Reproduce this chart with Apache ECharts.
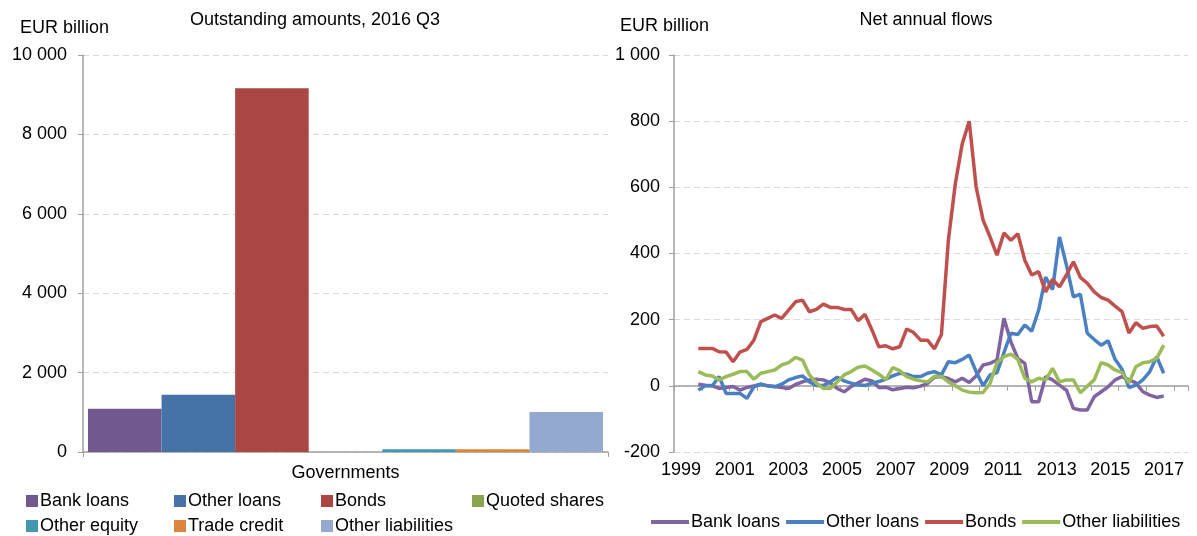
<!DOCTYPE html>
<html><head><meta charset="utf-8">
<script src="https://cdn.jsdelivr.net/npm/echarts@6/dist/echarts.min.js"></script>
<style>html,body{margin:0;padding:0;background:#fff}#c{width:1197px;height:536px}</style>
</head><body><div id="c"></div>
<script>
// ---- Left panel: outstanding amounts, 2016 Q3 (EUR billion)
const barCategories = ['Governments'];
const barNames = ['Bank loans','Other loans','Bonds','Quoted shares','Other equity','Trade credit','Other liabilities'];
const barValues = [1090, 1440, 9160, 0, 70, 70, 1005];
const barColors = ['#71588F','#4572A7','#AA4643','#89A54E','#4198AF','#DB843D','#93A9CF'];

// ---- Right panel: net annual flows (EUR billion), quarterly 1999Q4 - 2016Q3
const quarters = ['1999Q4',
 '2000Q1','2000Q2','2000Q3','2000Q4','2001Q1','2001Q2','2001Q3','2001Q4',
 '2002Q1','2002Q2','2002Q3','2002Q4','2003Q1','2003Q2','2003Q3','2003Q4',
 '2004Q1','2004Q2','2004Q3','2004Q4','2005Q1','2005Q2','2005Q3','2005Q4',
 '2006Q1','2006Q2','2006Q3','2006Q4','2007Q1','2007Q2','2007Q3','2007Q4',
 '2008Q1','2008Q2','2008Q3','2008Q4','2009Q1','2009Q2','2009Q3','2009Q4',
 '2010Q1','2010Q2','2010Q3','2010Q4','2011Q1','2011Q2','2011Q3','2011Q4',
 '2012Q1','2012Q2','2012Q3','2012Q4','2013Q1','2013Q2','2013Q3','2013Q4',
 '2014Q1','2014Q2','2014Q3','2014Q4','2015Q1','2015Q2','2015Q3','2015Q4',
 '2016Q1','2016Q2','2016Q3'];
const bankLoans = [5,
 2,0,-8,-5, -2,-13,-5,0, 5,0,-2,-5, -8,4,12,18, 20,18,9,-8, -18,-2,9,20,
 15,-5,-4,-12, -8,-4,-6,-1, 7,26,28,22, 12,23,10,30, 63,68,78,204,
 133,83,68,-48, -48,28,18,2, -13,-68,-73,-73, -33,-18,-3,18, 28,18,9,-18,
 -28,-35,-31];
const otherLoans = [-13,
 0,0,28,-23, -23,-23,-38,-3, 5,0,-3,5, 18,25,30,12, 1,1,12,26, 15,8,3,1,
 8,13,20,30, 38,35,28,28, 38,43,33,73, 70,80,93,43, 0,33,40,100,
 159,155,184,165, 229,329,291,450, 365,269,277,159, 140,123,136,80, 50,-5,2,18,
 43,88,38];
const bonds = [113,
 113,113,103,102, 73,102,110,138, 194,204,214,204, 229,254,259,224, 231,247,237,237,
 231,231,197,216, 169,118,121,112, 118,172,161,138, 138,112,155,440, 611,732,800,601,
 501,450,395,462, 440,460,380,335, 345,284,322,299, 335,375,328,310, 284,267,259,241,
 224,160,191,174, 179,181,150];
const otherLiabilities = [43,
 33,30,18,28, 35,43,43,20, 38,43,48,63, 70,86,78,33, 8,-8,-8,12, 33,43,56,60,
 48,35,19,55, 46,28,20,15, 12,29,28,12, 0,-13,-19,-21, -20,7,70,88,
 96,80,23,12, 23,18,53,12, 18,18,-21,-1, 18,70,63,48, 40,9,58,70,
 73,83,123];
const lineNames = ['Bank loans','Other loans','Bonds','Other liabilities'];
const lineSeriesData = [bankLoans, otherLoans, bonds, otherLiabilities];
const lineColors = ['#8064A2','#4A80C2','#C0504D','#9BBB59'];
const yearLabels = [1999,2001,2003,2005,2007,2009,2011,2013,2015,2017];

const FONT = 'Liberation Sans, Arial, sans-serif';
const FS = 18;
const AXIS = '#a0a0a0';
const GRIDC = '#d9d9d9';
const spaceFmt = v => String(v).replace(/\B(?=(\d{3})+(?!\d))/g, ' ');
const qToX = q => { const y = +q.slice(0,4), n = +q.slice(5); return y + (n - 0.5) / 4; };

const leftLegendPos = [[26,500],[174,500],[321,500],[472,500],[26,525],[174,525],[321,525]];

const series = [];
barNames.forEach((n, i) => series.push({
  name: n, type: 'bar', xAxisIndex: 0, yAxisIndex: 0,
  data: [barValues[i]], itemStyle: {color: barColors[i]},
  barGap: '0%', barCategoryGap: '1.9%', animation: false
}));
lineNames.forEach((n, i) => series.push({
  name: 'L_' + n, type: 'line', xAxisIndex: 1, yAxisIndex: 1,
  data: quarters.map((q, k) => [qToX(q), lineSeriesData[i][k]]),
  symbol: 'none', showSymbol: false, lineStyle: {color: lineColors[i], width: 3.5},
  itemStyle: {color: lineColors[i]}, animation: false
}));

const legends = barNames.map((n, i) => ({
  data: [n], left: leftLegendPos[i][0], top: leftLegendPos[i][1] - 8, padding: 0,
  icon: 'rect', itemWidth: 12, itemHeight: 12, itemGap: 0,
  textStyle: {fontFamily: FONT, fontSize: FS, color: '#000', padding: [0,0,0,-3]},
  selectedMode: false
}));
legends.push({
  data: lineNames.map(n => ({name: 'L_' + n, icon: 'rect'})),
  formatter: s => s.slice(2),
  left: 651, top: 513, padding: 0, itemWidth: 38, itemHeight: 4, itemGap: 6,
  textStyle: {fontFamily: FONT, fontSize: FS, color: '#000', padding: [0,0,0,-3]},
  selectedMode: false
});

const ttl = {fontFamily: FONT, fontSize: FS, fontWeight: 'normal', color: '#000'};
const option = {
  backgroundColor: '#fff',
  animation: false,
  textStyle: {fontFamily: FONT},
  title: [
    {text: 'Outstanding amounts, 2016 Q3', left: 315, top: 11, padding: 0, textAlign: 'center', textStyle: ttl},
    {text: 'EUR billion', left: 20, top: 19, padding: 0, textStyle: ttl},
    {text: 'Net annual flows', left: 926, top: 11, padding: 0, textAlign: 'center', textStyle: ttl},
    {text: 'EUR billion', left: 620, top: 17, padding: 0, textStyle: ttl}
  ],
  legend: legends,
  grid: [
    {left: 83, top: 55, width: 525, height: 397, containLabel: false},
    {left: 674, top: 55, width: 514, height: 397, containLabel: false}
  ],
  xAxis: [
    {type: 'category', gridIndex: 0, data: barCategories,
     axisLine: {lineStyle: {color: AXIS, width: 1.5}},
     axisTick: {show: true, length: 5, lineStyle: {color: AXIS}},
     axisLabel: {fontFamily: FONT, fontSize: FS, color: '#000', margin: 12},
     splitLine: {show: false}},
    {type: 'value', gridIndex: 1, min: 1999, max: 2017.5, interval: 1,
     axisLine: {onZero: true, lineStyle: {color: AXIS, width: 1.5}},
     axisTick: {show: true, length: 5, lineStyle: {color: AXIS}},
     axisLabel: {show: false}, splitLine: {show: false}},
    {type: 'value', gridIndex: 1, position: 'bottom', min: 1998.739, max: 2017.894,
     axisLine: {show: false, onZero: false}, axisTick: {show: false}, splitLine: {show: false},
     axisLabel: {customValues: yearLabels, formatter: v => String(v), fontFamily: FONT, fontSize: FS,
                 color: '#000', margin: 9, showMinLabel: true, showMaxLabel: true, hideOverlap: false}}
  ],
  yAxis: [
    {type: 'value', gridIndex: 0, min: 0, max: 10000, interval: 2000,
     axisLine: {show: true, lineStyle: {color: AXIS, width: 1.5}},
     axisTick: {show: true, length: 5, lineStyle: {color: AXIS}},
     axisLabel: {fontFamily: FONT, fontSize: FS, color: '#000', margin: 16, formatter: spaceFmt},
     splitLine: {show: true, lineStyle: {color: GRIDC, type: [6,4], width: 1}}},
    {type: 'value', gridIndex: 1, min: -200, max: 1000, interval: 200,
     axisLine: {show: true, onZero: false, lineStyle: {color: AXIS, width: 1.5}},
     axisTick: {show: true, length: 5, lineStyle: {color: AXIS}},
     axisLabel: {fontFamily: FONT, fontSize: FS, color: '#000', margin: 14, formatter: spaceFmt},
     splitLine: {show: true, lineStyle: {color: GRIDC, type: [6,4], width: 1}}}
  ],
  series: series
};
const chart = echarts.init(document.getElementById('c'), null, {renderer: 'canvas'});
chart.setOption(option);
</script></body></html>
